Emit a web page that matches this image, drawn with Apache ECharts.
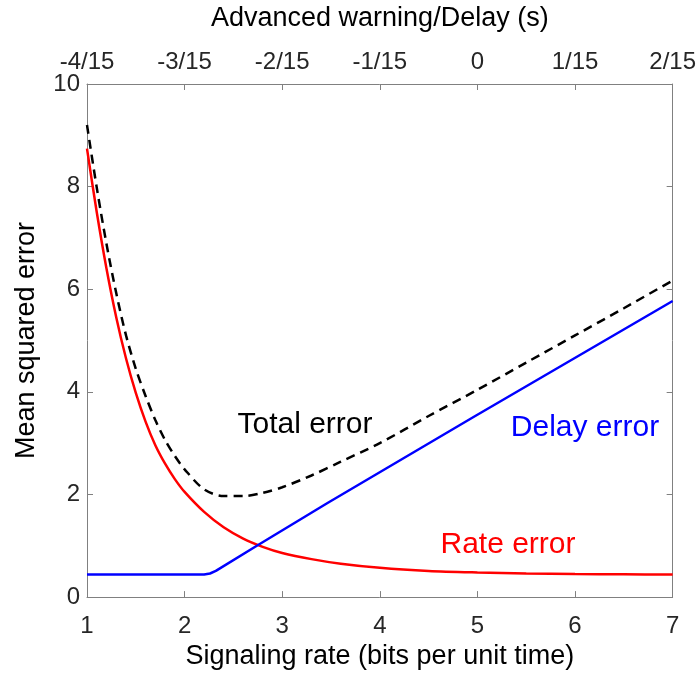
<!DOCTYPE html>
<html>
<head>
<meta charset="utf-8">
<script src="https://cdn.jsdelivr.net/npm/echarts@6/dist/echarts.min.js"></script>
<style>
html,body{margin:0;padding:0;background:#fff;}
#chart{width:699px;height:675px;}
</style>
</head>
<body>
<div id="chart"></div>
<script>
// ---- data ----
const rateX   = [1.0, 1.1, 1.2, 1.3, 1.4, 1.5, 1.6, 1.7, 1.8, 1.9, 2.0, 2.2, 2.4, 2.6, 2.8, 3.0, 3.3, 3.6, 4.0, 4.5, 5.0, 5.5, 6.0, 6.5, 7.0];
const rateY   = [8.74, 7.50, 6.40, 5.45, 4.65, 3.98, 3.42, 2.96, 2.60, 2.30, 2.05, 1.66, 1.36, 1.14, 0.98, 0.86, 0.74, 0.65, 0.57, 0.51, 0.48, 0.46, 0.45, 0.445, 0.44];
const delayX  = [1.00, 2.20, 2.26, 2.32, 2.74, 3.46, 4.96, 7.00];
const delayY  = [0.44, 0.44, 0.46, 0.51, 1.00, 1.83, 3.51, 5.77];
const totalX  = [1.0, 1.1, 1.2, 1.3, 1.4, 1.5, 1.6, 1.7, 1.8, 1.9, 2.0, 2.2, 2.4, 2.6, 2.8, 3.0, 3.3, 3.6, 4.0, 4.5, 5.0, 5.5, 6.0, 6.5, 7.0];
const totalY  = [9.20, 7.98, 6.88, 5.92, 5.10, 4.45, 3.92, 3.45, 3.06, 2.75, 2.49, 2.10, 1.97, 1.97, 2.03, 2.14, 2.37, 2.64, 3.00, 3.53, 4.04, 4.57, 5.10, 5.63, 6.17];
const bottomTicks = [1, 2, 3, 4, 5, 6, 7];
const topTickLabels = ['-4/15', '-3/15', '-2/15', '-1/15', '0', '1/15', '2/15'];
const leftTicks = [0, 2, 4, 6, 8, 10];
const labels = [
  {text: 'Total error', color: '#000000', x: 305, y: 425},
  {text: 'Delay error', color: '#0000ff', x: 585, y: 428},
  {text: 'Rate error',  color: '#ff0000', x: 508, y: 545}
];

const zip = (xs, ys) => xs.map((x, i) => [x, ys[i]]);
const FONT = "'Liberation Sans', Helvetica, Arial, sans-serif";
const AX = '#808080';
const TXT = '#262626';

const chart = echarts.init(document.getElementById('chart'), null, {renderer: 'canvas'});
const baseAxis = {
  axisLine: {show: true, onZero: false, lineStyle: {color: AX, width: 1}},
  axisTick: {show: true, inside: true, length: 6, lineStyle: {color: AX, width: 1}},
  splitLine: {show: false},
  nameTextStyle: {color: '#000', fontSize: 27, fontFamily: FONT},
  axisLabel: {color: TXT, fontSize: 24, fontFamily: FONT}
};
const option = {
  backgroundColor: '#fff',
  animation: false,
  grid: {left: 87, right: 21, top: 84, bottom: 75, containLabel: false},
  xAxis: [
    Object.assign({}, baseAxis, {
      type: 'value', position: 'bottom', min: bottomTicks[0], max: bottomTicks[bottomTicks.length - 1], interval: 1,
      name: 'Signaling rate (bits per unit time)', nameLocation: 'middle', nameGap: 45,
      axisLabel: Object.assign({}, baseAxis.axisLabel, {margin: 17})
    }),
    Object.assign({}, baseAxis, {
      type: 'value', position: 'top', min: -4, max: 2, interval: 1,
      name: 'Advanced warning/Delay (s)', nameLocation: 'middle', nameGap: 52,
      axisLabel: Object.assign({}, baseAxis.axisLabel, {margin: 10, formatter: v => topTickLabels[Math.round(v) + 4]})
    })
  ],
  yAxis: [
    Object.assign({}, baseAxis, {
      type: 'value', position: 'left', min: leftTicks[0], max: leftTicks[leftTicks.length - 1], interval: 2,
      name: 'Mean squared error', nameLocation: 'middle', nameGap: 47,
      axisLabel: Object.assign({}, baseAxis.axisLabel, {margin: 7})
    }),
    Object.assign({}, baseAxis, {
      type: 'value', position: 'right', min: 0, max: 10, interval: 2,
      axisLabel: {show: false}
    })
  ],
  series: [
    {type: 'line', name: 'Rate error', data: zip(rateX, rateY), showSymbol: false, smooth: 0.3,
     lineStyle: {color: '#ff0000', width: 2.5}, z: 3},
    {type: 'line', name: 'Delay error', data: zip(delayX, delayY), showSymbol: false, smooth: false,
     lineStyle: {color: '#0000ff', width: 2.5}, z: 3},
    {type: 'line', name: 'Total error', data: zip(totalX, totalY), showSymbol: false, smooth: 0.3,
     lineStyle: {color: '#000000', width: 2.5, type: [9, 6]}, z: 4}
  ],
  graphic: labels.map(l => ({
    type: 'text', x: l.x, y: l.y,
    style: {text: l.text, fill: l.color, fontSize: 30, fontFamily: FONT, align: 'center', verticalAlign: 'middle'}
  }))
};
chart.setOption(option);
</script>
</body>
</html>
